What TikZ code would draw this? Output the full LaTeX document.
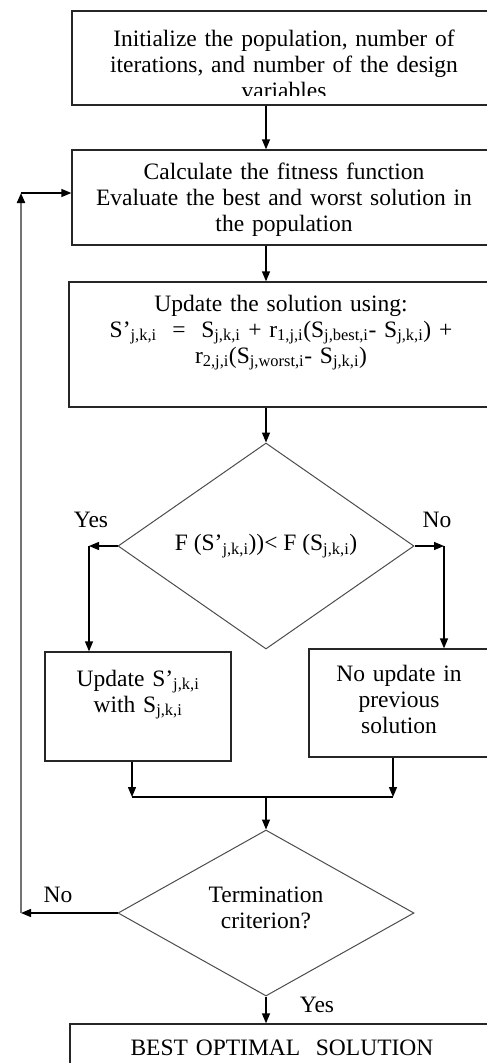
\documentclass[tikz,border=0pt]{standalone}
\usepackage{fontspec}
\setmainfont{Liberation Serif}
\usetikzlibrary{arrows.meta,shapes.geometric}
\begin{document}
\begin{tikzpicture}[x=1pt,y=-1pt,
  box/.style={draw=black!85, line width=1.3pt, inner sep=0pt},
  txt/.style={font=\fontsize{23.5}{26}\selectfont, align=center, anchor=base, inner sep=0pt},
  dia/.style={diamond, draw=black!70, line width=1pt, inner sep=0pt, font=\fontsize{23.5}{26}\selectfont, align=center},
  lbl/.style={font=\fontsize{23.5}{26}\selectfont, inner sep=0pt},
  arr/.style={-{Triangle[length=10pt,width=8pt]}, line width=1.3pt},
  ln/.style={line width=1.3pt}]
\useasboundingbox (0,0) rectangle (487,1063);

% boxes
\node[box, minimum width=424pt, minimum height=94pt] (b1) at (284,58) {};
\begin{scope}
  \clip (72,11) rectangle (496,95);
  \node[txt, text width=420pt] (t1) at (284,46) {Initialize the population, number of\\iterations, and number of the design\\variables};
\end{scope}

\node[box, minimum width=424pt, minimum height=95pt] (b2) at (284,197.5) {};
\node[txt, text width=420pt] (t2) at (284,179) {Calculate the fitness function\\Evaluate the best and worst solution in\\the population};

\node[box, minimum width=425pt, minimum height=125pt] (b3) at (281.5,344.5) {};
\node[txt, text width=420pt] (t3) at (281,311) {Update the solution using:\\
S’\textsubscript{j,k,i}\ \ =\ \ S\textsubscript{j,k,i} + r\textsubscript{1,j,i}(S\textsubscript{j,best,i}- S\textsubscript{j,k,i}) +\\
r\textsubscript{2,j,i}(S\textsubscript{j,worst,i}- S\textsubscript{j,k,i})};

\node[dia, minimum width=296pt, minimum height=206pt, shape aspect=1.44] (d1) at (266,546) {F (S’\textsubscript{j,k,i}))< F (S\textsubscript{j,k,i})};

\node[box, minimum width=186pt, minimum height=109pt] (b4) at (138,706.5) {};
\node[txt, text width=180pt] (t4) at (138,686) {Update S’\textsubscript{j,k,i}\\with S\textsubscript{j,k,i}};

\node[box, minimum width=180pt, minimum height=108pt] (b5) at (399,703) {};
\node[txt, text width=176pt] (t5) at (399,681) {No update in\\previous\\solution};

\node[dia, minimum width=296pt, minimum height=166pt] (d2) at (266,913) {};
\node[txt, text width=200pt] (t7) at (266,902) {Termination\\criterion?};

\node[box, minimum width=426pt, minimum height=66pt] (b6) at (283,1057) {};
\node[txt, text width=420pt] (t6) at (282,1055) {BEST OPTIMAL\ \ SOLUTION};

% labels
\node[lbl] (ly1) at (91,520) {Yes};
\node[lbl] (ln1) at (437,520) {No};
\node[lbl] (ln2) at (58,895) {No};
\node[lbl] (ly2) at (317,1005) {Yes};

% coordinates
\coordinate (yl) at (89,546);
\coordinate (nr) at (444,546);
\coordinate (m4) at (132,797);
\coordinate (m5) at (393,797);
\coordinate (fb) at (21,913);
\coordinate (ft) at (21,193);

% connectors
\draw[arr] (b1.south -| d1.north) -- (b2.north -| d1.north);
\draw[arr] (b2.south -| d1.north) -- (b3.north -| d1.north);
\draw[arr] (b3.south -| d1.north) -- (d1.north);
\draw[arr] (d1.west) -- (yl);
\draw[arr] (yl) -- (yl |- b4.north);
\draw[arr] (d1.east) -- (nr);
\draw[arr] (nr) -- (nr |- b5.north);
\draw[arr] (m4 |- b4.south) -- (m4);
\draw[arr] (m5 |- b5.south) -- (m5);
\draw[ln] (m4) -- (m5);
\draw[arr] (m4 -| d2.north) -- (d2.north);
\draw[arr] (d2.west) -- (fb);
\draw[line width=2pt, draw=black!55, -{Triangle[length=10pt,width=8pt,color=black]}] (fb) -- (ft);
\draw[arr] (ft) -- (ft -| b2.west);
\draw[arr] (d2.south) -- (d2.south |- b6.north);
\end{tikzpicture}
\end{document}
